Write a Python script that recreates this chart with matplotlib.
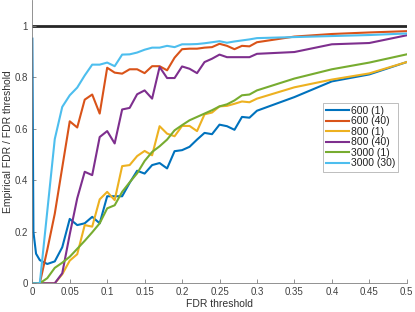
import matplotlib
matplotlib.use("Agg")
import matplotlib.pyplot as plt

plt.rcParams['font.family'] = ['Liberation Sans', 'DejaVu Sans']

x = [0, 0.0015, 0.005, 0.01, 0.02, 0.03, 0.04, 0.05, 0.06, 0.07, 0.08, 0.09, 0.10,
     0.11, 0.12, 0.13, 0.14, 0.15, 0.16, 0.17, 0.18, 0.19, 0.20, 0.21, 0.22, 0.23,
     0.24, 0.25, 0.26, 0.27, 0.28, 0.29, 0.30, 0.35, 0.40, 0.45, 0.50]

s600_1 = [0.95, 0.2, 0.115, 0.09, 0.075, 0.085, 0.14, 0.25, 0.226, 0.233, 0.258, 0.233, 0.338,
          0.338, 0.338, 0.39, 0.437, 0.426, 0.459, 0.467, 0.446, 0.513, 0.517, 0.53, 0.558, 0.584,
          0.579, 0.616, 0.61, 0.596, 0.646, 0.643, 0.67, 0.723, 0.784, 0.811, 0.859]
s600_40 = [0, 0, 0, 0, 0.13, 0.27, 0.45, 0.629, 0.605, 0.713, 0.733, 0.659, 0.837,
           0.818, 0.814, 0.831, 0.831, 0.816, 0.843, 0.843, 0.827, 0.876, 0.909, 0.911, 0.911, 0.915,
           0.917, 0.93, 0.922, 0.909, 0.922, 0.92, 0.936, 0.958, 0.968, 0.974, 0.979]
s800_1 = [0, 0, 0, 0, 0, 0, 0.035, 0.088, 0.113, 0.226, 0.22, 0.326, 0.355,
          0.323, 0.455, 0.459, 0.494, 0.514, 0.497, 0.61, 0.581, 0.571, 0.611, 0.611, 0.591, 0.656,
          0.663, 0.687, 0.689, 0.697, 0.706, 0.703, 0.717, 0.761, 0.791, 0.815, 0.859]
s800_40 = [0, 0, 0, 0, 0, 0, 0.039, 0.19, 0.33, 0.433, 0.42, 0.568, 0.591,
           0.543, 0.675, 0.681, 0.734, 0.749, 0.717, 0.84, 0.797, 0.797, 0.842, 0.833, 0.816, 0.859,
           0.872, 0.888, 0.878, 0.878, 0.878, 0.878, 0.891, 0.898, 0.928, 0.933, 0.963]
s3000_1 = [0, 0, 0, 0, 0.02, 0.06, 0.08, 0.103, 0.134, 0.165, 0.198, 0.233, 0.291,
           0.303, 0.355, 0.392, 0.427, 0.475, 0.51, 0.532, 0.558, 0.594, 0.614, 0.633, 0.646, 0.659,
           0.672, 0.687, 0.695, 0.71, 0.73, 0.733, 0.749, 0.795, 0.831, 0.857, 0.889]
s3000_30 = [0, 0, 0, 0, 0.28, 0.56, 0.685, 0.73, 0.76, 0.807, 0.849, 0.849, 0.857,
            0.843, 0.888, 0.889, 0.896, 0.907, 0.915, 0.915, 0.922, 0.917, 0.928, 0.928, 0.929, 0.932,
            0.936, 0.94, 0.934, 0.939, 0.943, 0.947, 0.952, 0.956, 0.96, 0.964, 0.97]

labels = ["600 (1)", "600 (40)", "800 (1)", "800 (40)", "3000 (1)", "3000 (30)"]
series = [s600_1, s600_40, s800_1, s800_40, s3000_1, s3000_30]
colors = ["#0072BD", "#D95319", "#EDB120", "#7E2F8E", "#77AC30", "#4DBEEE"]

xticks = [0, 0.05, 0.1, 0.15, 0.2, 0.25, 0.3, 0.35, 0.4, 0.45, 0.5]
xticklabels = ["0", "0.05", "0.1", "0.15", "0.2", "0.25", "0.3", "0.35", "0.4", "0.45", "0.5"]
yticks = [0, 0.2, 0.4, 0.6, 0.8, 1]
yticklabels = ["0", "0.2", "0.4", "0.6", "0.8", "1"]

fig = plt.figure(figsize=(4.15, 3.12), dpi=100)
ax = fig.add_axes([32.3 / 415, 28.7 / 312, (406.7 - 32.3) / 415, 283.3 / 312])

ax.plot([0, 0.5], [1, 1], color="#262626", lw=2.0, zorder=1)
for s, lab, c in zip(series, labels, colors):
    ax.plot(x, s, color=c, lw=1.5, label=lab, zorder=2)

ax.set_xlim(0, 0.5)
ax.set_ylim(0, 1.1)
ax.set_xticks(xticks)
ax.set_xticklabels(xticklabels)
ax.set_yticks(yticks)
ax.set_yticklabels(yticklabels)

for sp in ["top", "right"]:
    ax.spines[sp].set_visible(False)
for sp in ["left", "bottom"]:
    ax.spines[sp].set_color("#808080")
    ax.spines[sp].set_linewidth(0.6)
ax.tick_params(direction="in", length=3, width=0.6, color="#808080",
               labelsize=7, labelcolor="#404040", pad=3)

ax.set_xlabel("FDR threshold", fontsize=7.5, color="#303030", labelpad=1)
ax.set_ylabel("Empirical FDR / FDR threshold", fontsize=7.5, color="#303030")
ax.yaxis.set_label_coords((13 - 32.3) / 374.4, 0.5)

leg = ax.legend(loc="upper left",
                bbox_to_anchor=((322.5 - 32.3) / 374.4, (283.3 - 102.7) / 283.3),
                fontsize=7.5, frameon=True, fancybox=False, handlelength=2.2,
                borderpad=0.3, labelspacing=0.05, handletextpad=0.2, borderaxespad=0)
leg.get_frame().set_edgecolor("#a0a0a0")
leg.get_frame().set_linewidth(0.6)
for t in leg.get_texts():
    t.set_color("#202020")

fig.savefig("out.png", dpi=100)
